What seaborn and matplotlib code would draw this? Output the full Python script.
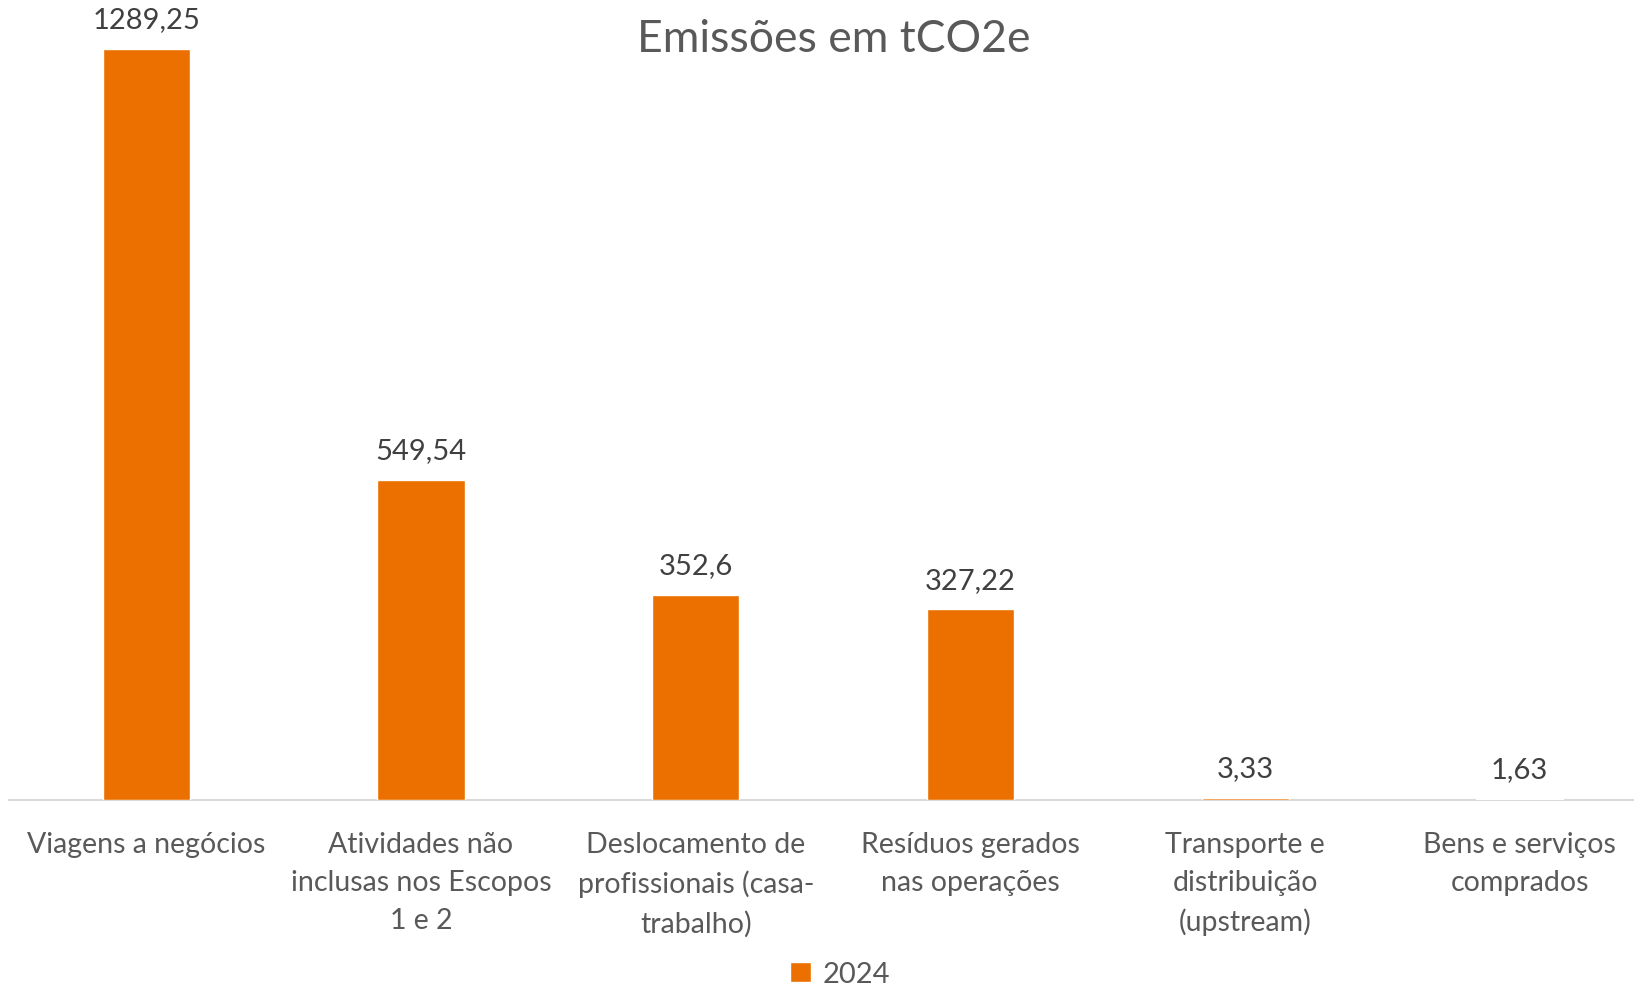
import pandas as pd
import seaborn as sns
import matplotlib.pyplot as plt

categories = [
    "Viagens a negócios",
    "Atividades não\ninclusas nos Escopos\n1 e 2",
    "Deslocamento de\nprofissionais (casa-\ntrabalho)",
    "Resíduos gerados\nnas operações",
    "Transporte e\ndistribuição\n(upstream)",
    "Bens e serviços\ncomprados",
]
values = [1289.25, 549.54, 352.6, 327.22, 3.33, 1.63]
series = ["2024"] * len(values)

df = pd.DataFrame({"categoria": categories, "valor": values, "ano": series})

sns.set_style("white")
plt.rcParams["font.family"] = ["Lato", "DejaVu Sans"]

text_color = "#595959"
orange = "#EC7000"

fig = plt.figure(figsize=(16.34, 9.87), dpi=100)
ax = fig.add_axes([9 / 1634, 1 - 801 / 987, 1 - 9 / 1634, 751 / 987])

sns.barplot(data=df, x="categoria", y="valor", hue="ano", palette=[orange],
            saturation=1, width=0.317, ax=ax, zorder=3)

ax.set_ylim(0, 1289.25)
ax.set_xlim(-0.5, 5.416)
ax.set_yticks([])
ax.set_xlabel("")
ax.set_ylabel("")
for s in ["top", "right", "left"]:
    ax.spines[s].set_visible(False)
ax.spines["bottom"].set_color("#D9D9D9")
ax.spines["bottom"].set_linewidth(1.5)
ax.spines["bottom"].set_zorder(1)
ax.tick_params(axis="x", length=0, pad=22, labelsize=20.5, labelcolor=text_color)
for lbl in ax.get_xticklabels():
    lbl.set_linespacing(1.58)

for i, v in enumerate(values):
    ax.annotate(f"{v:g}".replace(".", ","), (i, v), xytext=(0, 12),
                textcoords="offset points", ha="center", va="bottom",
                fontsize=21, color="#404040", annotation_clip=False)

fig.text(834 / 1634, 1 - 40 / 987, "Emissões em tCO2e", ha="center", va="center",
         fontsize=32, color=text_color)

sns.move_legend(ax, "center", bbox_to_anchor=(0.514, 0.012),
                bbox_transform=fig.transFigure, frameon=False,
                title=None, fontsize=21, handlelength=0.7, handleheight=0.7,
                handletextpad=0.4, labelcolor=text_color)

fig.savefig("out.png", dpi=100)
